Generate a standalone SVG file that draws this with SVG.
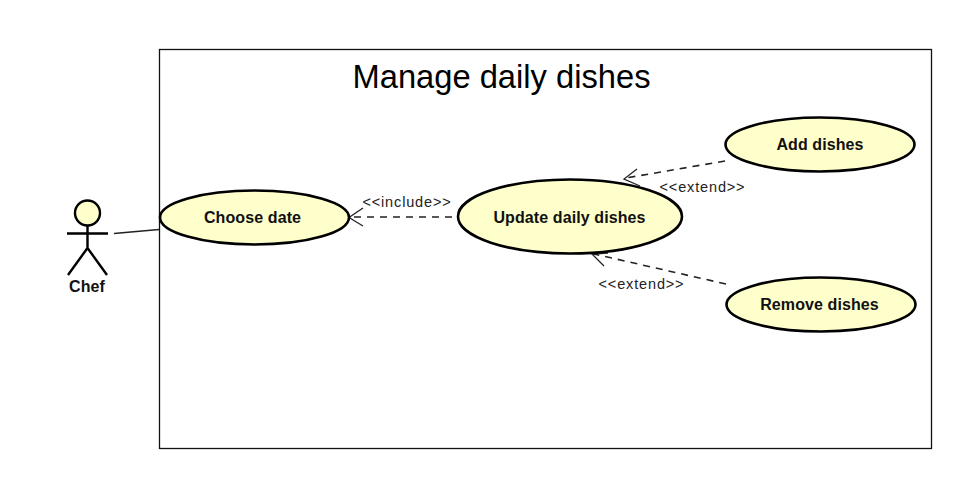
<svg xmlns="http://www.w3.org/2000/svg" width="975" height="500" viewBox="0 0 975 500">
<style>
.uc{fill:#ffffcc;stroke:#000;stroke-width:2.6}
.n{font:bold 16px "Liberation Sans",Arial,sans-serif;text-anchor:middle;fill:#111;letter-spacing:.1px}
.l{font:14.5px "Liberation Sans",Arial,sans-serif;text-anchor:middle;fill:#222;letter-spacing:.85px}
.d{fill:none;stroke:#222;stroke-width:1.6;stroke-dasharray:7 6}
.a{fill:none;stroke:#222;stroke-width:1.3}
.s{fill:none;stroke:#000;stroke-width:2.4}
</style>
<rect width="975" height="500" fill="#fff"/>
<g id="boundary">
<rect x="159.500" y="49.500" width="772" height="399" fill="#fff" stroke="#111" stroke-width="1.300"/>
<text x="501.500" y="88" font-family="Liberation Sans, Arial, sans-serif" font-size="32.700" text-anchor="middle" fill="#000">Manage daily dishes</text>
</g>
<g id="connectors">
<path d="M114 233.500L159 229.500" fill="none" stroke="#222" stroke-width="1.300"/>
<path class="d" d="M452 217H351"/>
<path class="a" d="M363 208L349 217.500L363 226"/>
<path class="d" d="M725 161L626 178"/>
<path class="a" d="M637 169L624 179L640 186"/>
<path class="d" d="M726 284L594 254"/>
<path class="a" d="M604 266L592 254L608 253"/>
<text class="l" x="407" y="207">&lt;&lt;include&gt;&gt;</text>
<text class="l" x="702.500" y="192">&lt;&lt;extend&gt;&gt;</text>
<text class="l" x="641.500" y="289">&lt;&lt;extend&gt;&gt;</text>
</g>
<g id="actor-chef">
<circle cx="87.500" cy="213" r="12.500" fill="#ffffcc" stroke="#000" stroke-width="2.400"/>
<path class="s" d="M87.500 225.500V248M67 233.500H108M87.500 248L68 275M87.500 248L107 275"/>
<text class="n" x="87" y="292">Chef</text>
</g>
<g id="uc-choose-date">
<ellipse class="uc" cx="254.500" cy="217.500" rx="94.500" ry="27"/>
<text class="n" x="252.500" y="223">Choose date</text>
</g>
<g id="uc-update-daily-dishes">
<ellipse class="uc" cx="570" cy="216.500" rx="112" ry="37"/>
<text class="n" x="569.500" y="223">Update daily dishes</text>
</g>
<g id="uc-add-dishes">
<ellipse class="uc" cx="820" cy="144.500" rx="94.500" ry="27"/>
<text class="n" x="820" y="150">Add dishes</text>
</g>
<g id="uc-remove-dishes">
<ellipse class="uc" cx="821" cy="304.500" rx="94.500" ry="27"/>
<text class="n" x="819.500" y="310">Remove dishes</text>
</g>
</svg>
